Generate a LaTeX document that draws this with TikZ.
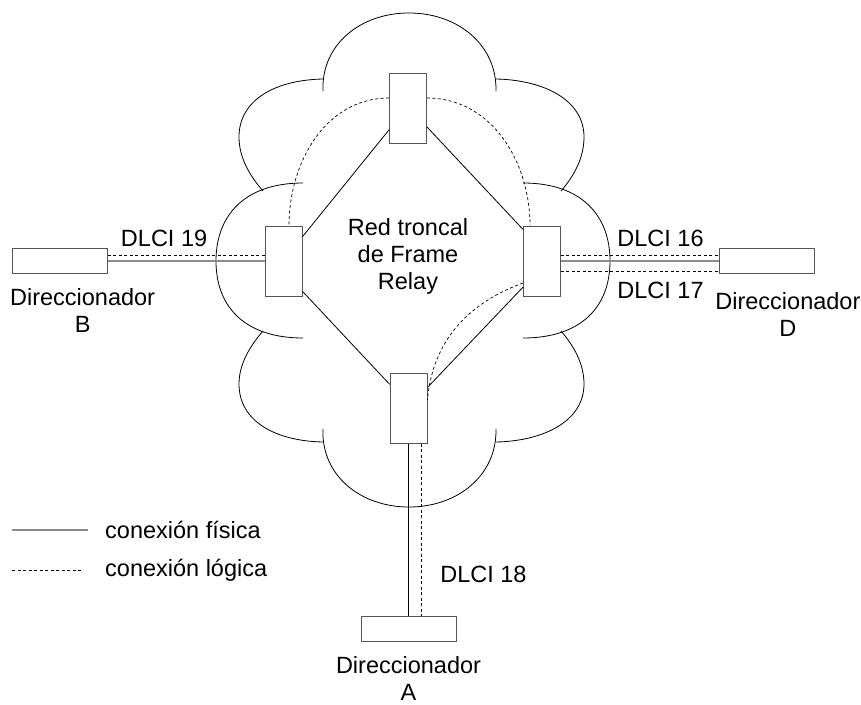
\documentclass[tikz,border=0pt]{standalone}
\usepackage{fontspec}
\setmainfont{Liberation Sans}
\usepackage{tikz}
\usetikzlibrary{positioning,calc}
\definecolor{edgegray}{RGB}{85,85,85}
\definecolor{linkgray}{RGB}{140,140,140}
\tikzset{
  switchbox/.style={
    draw=edgegray,
    fill=white,
    line width=0.9pt,
    minimum width=37pt,
    minimum height=70pt,
    inner sep=0pt
  },
  routerbox/.style={
    draw=edgegray,
    fill=white,
    line width=0.9pt,
    minimum width=95pt,
    minimum height=25pt,
    inner sep=0pt
  },
  txt/.style={
    font=\fontsize{23.5}{27}\selectfont,
    align=center,
    inner sep=4pt
  },
  cloudline/.style={line width=0.8pt},
  trunk/.style={line width=0.8pt},
  physical/.style={draw=linkgray, line width=1.8pt},
  logical/.style={line width=0.7pt, dash pattern=on 3pt off 2.5pt}
}

\begin{document}
\begin{tikzpicture}[x=1pt, y=1pt]
  \useasboundingbox (0,0) rectangle (861,-704);

  % cloud
  \draw[cloudline] (323,-91) .. controls (321,-45) and (360,-13) .. (409,-13)
    .. controls (458,-13) and (497,-45) .. (496,-91);
  \draw[cloudline] (323,-79) .. controls (275,-80) and (239,-100) .. (239,-137)
    .. controls (239,-158) and (250,-176) .. (263,-191);
  \draw[cloudline] (303,-183) .. controls (245,-183) and (216,-215) .. (216,-261)
    .. controls (216,-307) and (245,-338) .. (303,-338);
  \draw[cloudline] (263,-331) .. controls (250,-346) and (239,-364) .. (239,-384)
    .. controls (239,-421) and (275,-441) .. (323,-442);
  \draw[cloudline] (323,-429) .. controls (321,-475) and (360,-507) .. (409,-507)
    .. controls (458,-507) and (497,-475) .. (496,-429);
  \draw[cloudline] (496,-442) .. controls (544,-441) and (584,-421) .. (584,-384)
    .. controls (584,-364) and (574,-346) .. (561,-331);
  \draw[cloudline] (523,-338) .. controls (581,-338) and (610,-307) .. (610,-261)
    .. controls (610,-215) and (581,-183) .. (523,-183);
  \draw[cloudline] (561,-191) .. controls (574,-176) and (584,-158) .. (584,-137)
    .. controls (584,-100) and (544,-80) .. (496,-79);

  % switches of the backbone
  \node[switchbox] (swT) at (408,-108) {};
  \node[switchbox] (swL) at (283.5,-261) {};
  \node[switchbox] (swR) at (542,-261) {};
  \node[switchbox] (swB) at (408.5,-408.5) {};
  \node[txt] (core) at (408,-256) {Red troncal\\de Frame\\Relay};

  % routers
  \node[routerbox, left=157pt of swL] (rB) {};
  \node[routerbox, right=158pt of swR] (rD) {};
  \node[routerbox, below=172pt of swB] (rA) {};
  \node[txt, below=10pt of rB, xshift=23pt] (lblB) {Direccionador\\B};
  \node[txt, below=14pt of rD, xshift=21pt] (lblD) {Direccionador\\D};
  \node[txt, below=10pt of rA] (lblA) {Direccionador\\A};

  % physical links
  \draw[trunk] (swT.229) -- (swL.52);
  \draw[trunk] (swT.315) -- (swR.121.5);
  \draw[trunk] (swL.302.5) -- (swB.128);
  \draw[trunk] (swB.48) -- (swR.234.8);
  \draw[physical] (rB.east) -- (rB.east -| swL.west);
  \draw[physical] (swR.east) -- (swR.east -| rD.west);
  \draw[trunk] (swB.south) -- (swB.south |- rA.north);

  % logical links
  \draw[logical] ([yshift=10pt]swT.west) to[out=180,in=90] ([xshift=5.5pt]swL.north);
  \draw[logical] ([yshift=10pt]swT.east) to[out=0,in=90] ([xshift=-12pt]swR.north);
  \draw[logical] ([yshift=-22pt]swR.west) to[out=200,in=85] ([yshift=8.5pt]swB.east);
  \draw[logical] ([yshift=5.5pt]rB.east) -- ([yshift=5.5pt]rB.east -| swL.west)
    node[txt, pos=0.36, above=4.5pt] (dlci19) {DLCI 19};
  \draw[logical] ([yshift=5.5pt]swR.east) -- ([yshift=5.5pt]swR.east -| rD.west)
    node[txt, pos=0.63, above=4.5pt] (dlci16) {DLCI 16};
  \draw[logical] ([yshift=-10pt]swR.east) -- ([yshift=-10pt]swR.east -| rD.west)
    node[txt, pos=0.63, below=7pt] (dlci17) {DLCI 17};
  \draw[logical] ([xshift=12.5pt]swB.south) -- ([xshift=12.5pt]swB.south |- rA.north)
    node[txt, pos=0.76, right=15pt] (dlci18) {DLCI 18};

  % legend
  \coordinate (solidA) at (12,-530);
  \coordinate (solidB) at (88,-530);
  \coordinate (dotA) at (12,-570);
  \coordinate (dotB) at (82,-570);
  \draw[physical] (solidA) -- (solidB);
  \draw[logical] (dotA) -- (dotB);
  \node[txt, right=13pt of solidB] (legphys) {conexión física};
  \node[txt, right=19pt of dotB] (leglog) {conexión lógica};
\end{tikzpicture}
\end{document}
